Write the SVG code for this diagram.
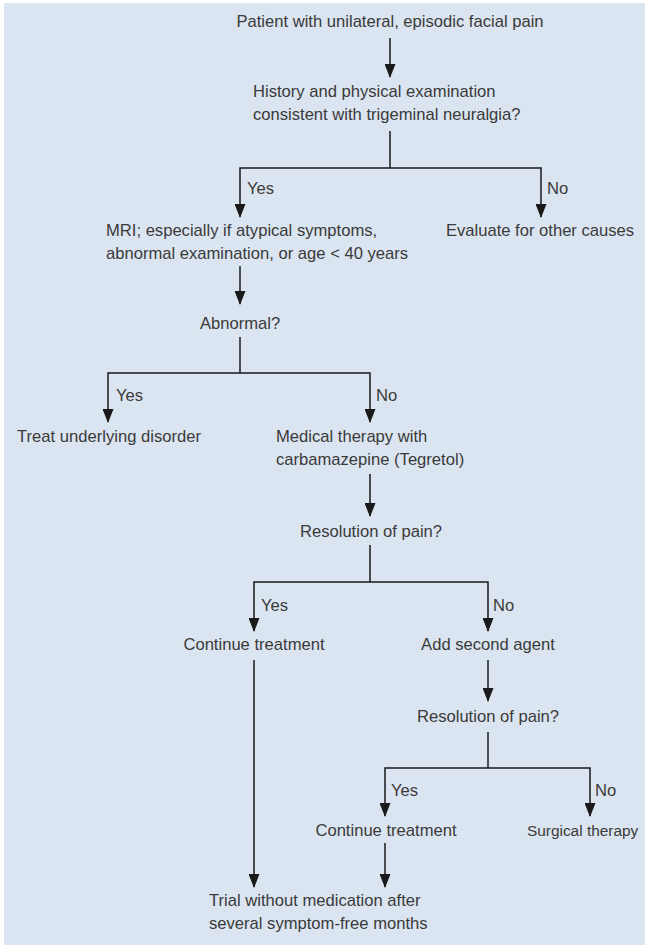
<svg xmlns="http://www.w3.org/2000/svg" width="645" height="946" viewBox="0 0 645 946">
<style>
.t{font-family:"Liberation Sans",Arial,sans-serif;font-size:16.6px;fill:#3a3a3a}
.m{text-anchor:middle}
.c{fill:none;stroke:#1a1a1a;stroke-width:1.5}
</style>
<defs>
<marker id="ah" markerUnits="userSpaceOnUse" markerWidth="11" markerHeight="14" viewBox="0 0 11 14" refX="5.5" refY="13" orient="0">
<path d="M0,0 L11,0 L5.5,14 z" fill="#1a1a1a"/>
</marker>
</defs>
<rect x="0" y="0" width="645" height="946" fill="#ffffff"/>
<rect x="4" y="3" width="641" height="942" fill="#dbe5f1"/>
<g id="connectors">
<path class="c" d="M390,38 V77" marker-end="url(#ah)"/>
<path class="c" d="M390,131 V168"/>
<path class="c" d="M390,168 H240 V217" marker-end="url(#ah)"/>
<path class="c" d="M390,168 H541 V217" marker-end="url(#ah)"/>
<path class="c" d="M240,266 V304" marker-end="url(#ah)"/>
<path class="c" d="M240,337 V373"/>
<path class="c" d="M240,373 H108 V422" marker-end="url(#ah)"/>
<path class="c" d="M240,373 H370 V422" marker-end="url(#ah)"/>
<path class="c" d="M370,474 V516" marker-end="url(#ah)"/>
<path class="c" d="M370,545 V582"/>
<path class="c" d="M370,582 H254 V631" marker-end="url(#ah)"/>
<path class="c" d="M370,582 H488 V631" marker-end="url(#ah)"/>
<path class="c" d="M254,660 V887" marker-end="url(#ah)"/>
<path class="c" d="M488,660 V701" marker-end="url(#ah)"/>
<path class="c" d="M488,732 V768"/>
<path class="c" d="M488,768 H385 V816" marker-end="url(#ah)"/>
<path class="c" d="M488,768 H590 V816" marker-end="url(#ah)"/>
<path class="c" d="M385,843 V887" marker-end="url(#ah)"/>
<text class="t" x="247" y="194">Yes</text>
<text class="t" x="547" y="194">No</text>
<text class="t" x="116" y="401">Yes</text>
<text class="t" x="376" y="401">No</text>
<text class="t" x="261" y="611">Yes</text>
<text class="t" x="493" y="611">No</text>
<text class="t" x="391" y="796">Yes</text>
<text class="t" x="595" y="796">No</text>
</g>
<g id="n1"><text class="t m" x="390" y="27">Patient with unilateral, episodic facial pain</text></g>
<g id="n2"><text class="t" x="253" y="97">History and physical examination</text><text class="t" x="253" y="120">consistent with trigeminal neuralgia?</text></g>
<g id="n3"><text class="t" x="106" y="236">MRI; especially if atypical symptoms,</text><text class="t" x="106" y="259">abnormal examination, or age &lt; 40 years</text></g>
<g id="n4"><text class="t m" x="540" y="236">Evaluate for other causes</text></g>
<g id="n5"><text class="t m" x="240" y="329">Abnormal?</text></g>
<g id="n6"><text class="t m" x="109" y="442">Treat underlying disorder</text></g>
<g id="n7"><text class="t" x="276" y="442">Medical therapy with</text><text class="t" x="276" y="465">carbamazepine (Tegretol)</text></g>
<g id="n8"><text class="t m" x="371" y="537">Resolution of pain?</text></g>
<g id="n9"><text class="t m" x="254" y="650">Continue treatment</text></g>
<g id="n10"><text class="t m" x="488" y="650">Add second agent</text></g>
<g id="n11"><text class="t m" x="488" y="722">Resolution of pain?</text></g>
<g id="n12"><text class="t m" x="386" y="836">Continue treatment</text></g>
<g id="n13"><text class="t" x="527" y="836" style="font-size:15.4px">Surgical therapy</text></g>
<g id="n14"><text class="t" x="209" y="906">Trial without medication after</text><text class="t" x="209" y="929">several symptom-free months</text></g>
</svg>
